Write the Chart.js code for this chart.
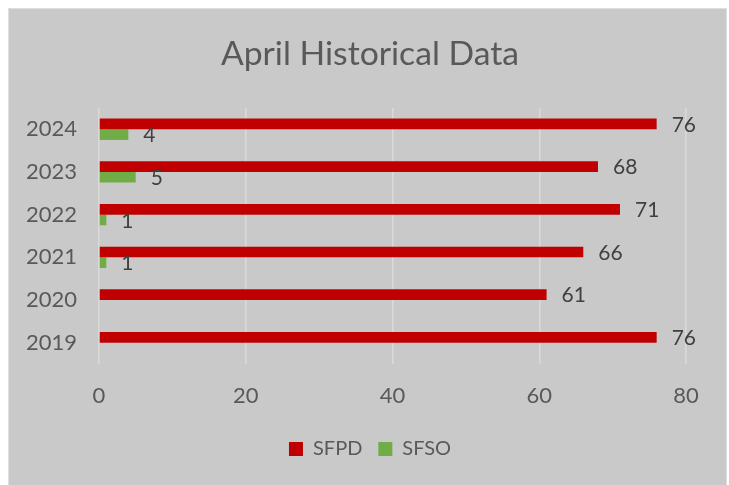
<!DOCTYPE html>
<html>
<head>
<meta charset="utf-8">
<script src="https://cdn.jsdelivr.net/npm/chart.js@4/dist/chart.umd.min.js"></script>
<style>
  html, body { margin: 0; padding: 0; background: #fff; }
  #box {
    position: absolute; left: 8px; top: 8px;
    width: 717px; height: 476px;
    background: #c9c9c9; border: 1px solid #dedede;
  }
</style>
</head>
<body>
<div id="box"><canvas id="chart"></canvas></div>
<script>
// values, top row first
const years = ["2024", "2023", "2022", "2021", "2020", "2019"];
const sfpd = [76, 68, 71, 66, 61, 76];
const sfso = [4, 5, 1, 1, null, null];
const xTicks = [0, 20, 40, 60, 80];

const FONT = "Lato, 'Open Sans', sans-serif";

// draws the value at the end of each bar
const barLabels = {
  id: "barLabels",
  afterDatasetsDraw(chart) {
    const ctx = chart.ctx;
    ctx.save();
    ctx.font = "21px " + FONT;
    ctx.fillStyle = "#404040";
    ctx.textAlign = "left";
    ctx.textBaseline = "middle";
    chart.data.datasets.forEach((ds, i) => {
      chart.getDatasetMeta(i).data.forEach((bar, j) => {
        const v = ds.data[j];
        if (v == null) return;
        ctx.fillText(String(v), bar.x + 15, bar.y + 1);
      });
    });
    ctx.restore();
  }
};

new Chart(document.getElementById("chart"), {
  type: "bar",
  data: {
    labels: years,
    datasets: [
      { label: "SFPD", data: sfpd, backgroundColor: "#c00000" },
      { label: "SFSO", data: sfso, backgroundColor: "#70ad47" }
    ]
  },
  options: {
    indexAxis: "y",
    responsive: true,
    maintainAspectRatio: false,
    animation: false,
    categoryPercentage: 0.5,
    barPercentage: 1,
    layout: { padding: { left: 5, right: 0, top: 0, bottom: 16 } },
    scales: {
      x: {
        min: 0, max: 80,
        afterBuildTicks(scale) { scale.ticks = xTicks.map(v => ({ value: v })); },
        afterFit(scale) { scale.height = 59; },
        grid: { color: "#dadada", lineWidth: 1.5, drawTicks: false },
        border: { display: false },
        ticks: { color: "#595959", font: { family: FONT, size: 22 }, padding: 19 }
      },
      y: {
        afterFit(scale) { scale.width = 85; },
        grid: { display: false, drawTicks: false },
        border: { display: false },
        ticks: { color: "#595959", font: { family: FONT, size: 22 }, padding: 22 }
      },
      // empty right-hand space so the plot ends at 80 while title/legend stay centred
      yRight: {
        type: "category",
        position: "right",
        afterFit(scale) { scale.width = 40; },
        grid: { display: false, drawTicks: false },
        border: { display: false },
        ticks: { display: false }
      }
    },
    plugins: {
      title: {
        display: true,
        text: "April Historical Data",
        color: "#595959",
        font: { family: FONT, size: 33.7, weight: "normal" },
        padding: { top: 25, bottom: 33.5 }
      },
      legend: {
        position: "bottom",
        labels: {
          color: "#595959",
          font: { family: FONT, size: 20 },
          boxWidth: 14, boxHeight: 14, padding: 16
        }
      },
      tooltip: { enabled: false }
    }
  },
  plugins: [barLabels]
});
</script>
</body>
</html>
